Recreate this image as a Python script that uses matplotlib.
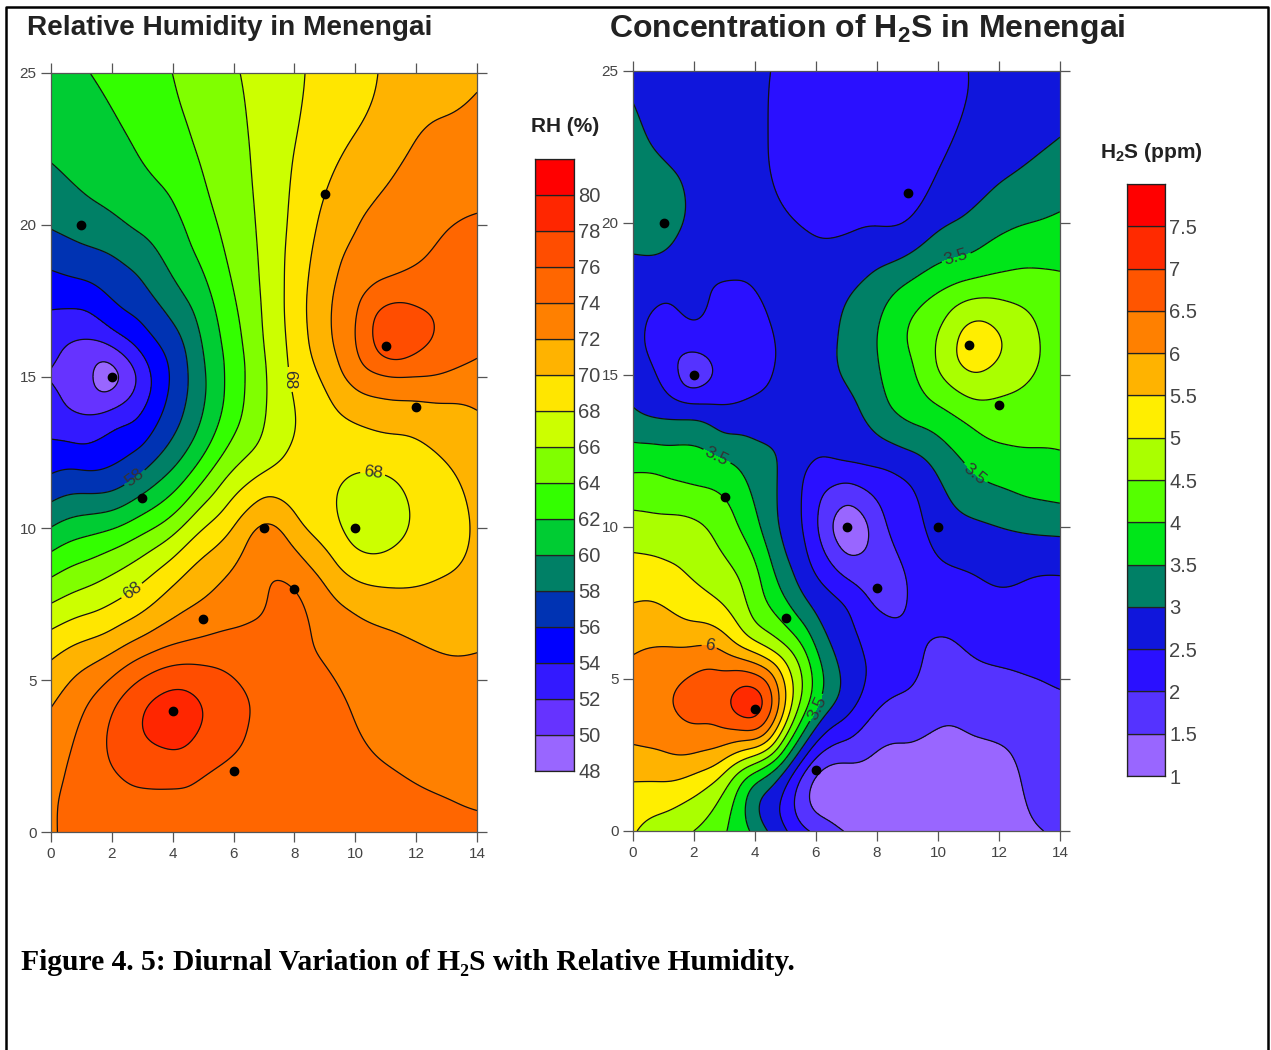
import numpy as np
import matplotlib
matplotlib.use('Agg')
import matplotlib.pyplot as plt
from matplotlib.lines import Line2D
from matplotlib.tri import Triangulation, CubicTriInterpolator

plt.rcParams['font.family'] = ['Liberation Sans', 'DejaVu Sans']
plt.rcParams['mathtext.fontset'] = 'custom'
plt.rcParams['mathtext.bf'] = 'Liberation Sans:bold'
plt.rcParams['mathtext.default'] = 'bf'

W, H = 1271, 1050

x_grid = list(range(15))
y_grid = [25, 22.5, 20, 18, 16, 15, 14, 12, 10, 8, 6, 4, 2, 0]

rh_rows = [
    [60.9, 61.8, 62.5, 63.3, 64.0, 65.0, 65.8, 66.8, 67.7, 68.6, 69.4, 70.2, 70.8, 71.3, 71.7],
    [60.2, 60.7, 61.4, 62.2, 63.1, 64.3, 65.3, 66.7, 68.0, 69.2, 70.3, 71.1, 72.2, 72.6, 72.9],
    [58.2, 58.9, 59.5, 60.4, 61.4, 63.2, 64.8, 66.5, 68.5, 70.5, 71.9, 72.6, 73.2, 73.9, 74.2],
    [55.2, 55.6, 56.6, 57.8, 59.7, 61.6, 64.1, 66.3, 68.9, 71.3, 73.2, 74.5, 74.9, 75.2, 75.1],
    [52.6, 51.6, 52.0, 54.6, 56.9, 60.1, 63.1, 66.0, 68.7, 71.3, 73.9, 77.0, 76.4, 75.3, 74.4],
    [51.9, 50.9, 49.2, 52.8, 56.3, 59.7, 62.9, 65.75, 68.4, 70.4, 72.8, 73.95, 74.0, 73.7, 73.3],
    [52.7, 51.6, 51.7, 53.7, 56.8, 59.9, 63.1, 65.8, 68.0, 69.5, 70.9, 71.5, 71.6, 71.8, 72.1],
    [55.6, 55.8, 56.1, 57.6, 59.9, 62.9, 65.9, 67.7, 68.6, 68.6, 68.2, 68.3, 69.0, 69.9, 70.8],
    [60.1, 61.2, 61.9, 63.4, 65.3, 68.0, 70.1, 72.4, 70.8, 69.1, 67.2, 67.2, 68.3, 69.2, 70.3],
    [64.9, 66.0, 67.0, 68.4, 70.2, 71.6, 72.7, 73.85, 74.05, 72.2, 70.6, 70.1, 70.1, 70.4, 70.8],
    [69.4, 70.6, 71.7, 73.3, 74.5, 74.9, 74.9, 74.8, 74.4, 73.8, 73.1, 72.6, 72.2, 71.9, 71.95],
    [72.1, 73.8, 75.9, 77.9, 79.0, 78.0, 76.6, 75.7, 75.0, 74.5, 73.9, 73.4, 73.1, 72.9, 72.8],
    [73.6, 74.6, 75.9, 76.6, 76.8, 76.2, 75.6, 75.3, 75.1, 74.8, 74.4, 74.1, 73.8, 73.6, 73.4],
    [73.8, 74.7, 75.2, 75.5, 75.5, 75.5, 75.4, 75.4, 75.3, 75.2, 75.1, 75.0, 74.9, 74.6, 74.4],
]

h2s_rows = [
    [2.85, 2.75, 2.7, 2.65, 2.55, 2.45, 2.35, 2.3, 2.3, 2.35, 2.42, 2.5, 2.6, 2.68, 2.75],
    [3.25, 2.9, 2.75, 2.65, 2.55, 2.42, 2.3, 2.25, 2.2, 2.25, 2.43, 2.6, 2.75, 2.92, 3.05],
    [3.3, 3.25, 2.85, 2.7, 2.6, 2.55, 2.42, 2.42, 2.47, 2.52, 2.9, 3.1, 3.37, 3.5, 3.6],
    [2.75, 2.65, 2.58, 2.48, 2.52, 2.7, 2.75, 2.9, 3.17, 3.52, 3.85, 4.1, 4.2, 4.2, 4.08],
    [2.7, 2.3, 2.15, 2.15, 2.3, 2.6, 2.8, 3.1, 3.5, 4.0, 4.55, 5.25, 5.05, 4.66, 4.2],
    [2.75, 2.4, 1.7, 2.2, 2.35, 2.65, 2.85, 3.05, 3.45, 3.85, 4.45, 4.95, 4.8, 4.55, 4.2],
    [2.98, 2.75, 2.55, 2.5, 2.6, 2.75, 2.85, 2.9, 3.3, 3.7, 4.0, 4.35, 4.4, 4.3, 4.15],
    [3.9, 3.85, 3.75, 3.6, 3.25, 2.9, 2.4, 2.4, 2.52, 2.7, 3.1, 3.52, 3.75, 3.85, 3.9],
    [4.7, 4.65, 4.6, 4.25, 3.65, 2.85, 2.07, 1.2, 1.75, 2.25, 2.7, 2.9, 3.0, 3.1, 3.15],
    [5.37, 5.3, 5.05, 4.8, 4.2, 3.35, 2.65, 2.2, 1.8, 2.0, 2.28, 2.38, 2.5, 2.43, 2.4],
    [5.93, 6.03, 6.05, 5.9, 5.3, 4.6, 3.5, 2.75, 2.3, 2.1, 1.95, 2.02, 2.1, 2.15, 2.2],
    [6.3, 6.4, 6.65, 6.85, 7.25, 5.4, 3.5, 2.65, 2.0, 1.85, 1.65, 1.7, 1.75, 1.8, 1.9],
    [5.65, 5.7, 5.6, 5.1, 4.1, 3.0, 1.6, 1.35, 1.3, 1.25, 1.2, 1.25, 1.35, 1.6, 1.8],
    [5.05, 4.75, 4.5, 4.05, 3.35, 2.55, 1.9, 1.45, 1.35, 1.3, 1.3, 1.3, 1.35, 1.45, 1.55],
]

# sampling stations
station_x = [1, 2, 3, 4, 5, 6, 7, 8, 9, 10, 11, 12]
station_y = [20, 15, 11, 4, 7, 2, 10, 8, 21, 10, 16, 14]

rh_levels = list(range(48, 84, 2))
rh_colors = ['#9966ff', '#6633ff', '#3319ff', '#0000ff', '#0033b3', '#008066', '#00cc33', '#33ff00', '#80ff00',
             '#ccff00', '#ffe600', '#ffb300', '#ff8000', '#ff6600', '#ff4d00', '#ff2600', '#ff0000']
rh_ticks = list(range(48, 82, 2))

h2s_levels = [1, 1.5, 2, 2.5, 3, 3.5, 4, 4.5, 5, 5.5, 6, 6.5, 7, 7.5, 8]
h2s_colors = ['#9966ff', '#5533ff', '#2a10ff', '#1016dc', '#008066', '#00e619', '#55ff00', '#aaff00',
              '#ffee00', '#ffb300', '#ff8000', '#ff5500', '#ff2a00', '#ff0000']
h2s_ticks = [1, 1.5, 2, 2.5, 3, 3.5, 4, 4.5, 5, 5.5, 6, 6.5, 7, 7.5]

# (level, x, y, rotation or None) of the inline labels
rh_labels = [(68, 7.82, 14.9, 270), (58, 2.83, 11.56, None), (68, 10.55, 11.63, None), (68, 2.66, 7.94, None)]
h2s_labels = [(3.5, 10.56, 19.0, None), (3.5, 2.72, 12.27, None), (3.5, 11.25, 11.8, None),
              (3.5, 6.03, 4.05, None), (6, 2.49, 6.02, None)]


def px_axes(left, top, right, bottom):
    return fig.add_axes([left / W, 1 - bottom / H, (right - left) / W, (bottom - top) / H])


def soften(z, step, sigma):
    # the hand read grid is a bit noisy, take the wobble out of the contours
    n = int(3 * sigma / step)
    k = np.exp(-0.5 * (np.arange(-n, n + 1) * step / sigma) ** 2)
    k = k / k.sum()
    p = np.pad(z, n, mode='reflect', reflect_type='odd')
    p = np.apply_along_axis(lambda a: np.convolve(a, k, mode='same'), 0, p)
    p = np.apply_along_axis(lambda a: np.convolve(a, k, mode='same'), 1, p)
    return p[n:-n, n:-n]


def contour_panel(ax, rows, levels, colors, labels):
    xx, yy = np.meshgrid(x_grid, y_grid)
    tri = Triangulation(xx.ravel(), yy.ravel())
    interp = CubicTriInterpolator(tri, np.array(rows, dtype=float).ravel(), kind='min_E')
    xf = np.clip(np.linspace(0, 14, 281), 1e-6, 14 - 1e-6)
    yf = np.clip(np.linspace(0, 25, 501), 1e-6, 25 - 1e-6)
    gx, gy = np.meshgrid(xf, yf)
    zf = soften(np.ma.filled(interp(gx, gy), np.nan), 0.05, 0.22)
    ax.contourf(gx, gy, zf, levels=levels, colors=colors)
    labelled = sorted(set(l[0] for l in labels))
    plain = [l for l in levels if l not in labelled]
    ax.contour(gx, gy, zf, levels=plain, colors='#111111', linewidths=0.9)
    for lev in labelled:
        cs = ax.contour(gx, gy, zf, levels=[lev], colors='#111111', linewidths=0.9)
        pos = [(l[1], l[2]) for l in labels if l[0] == lev]
        texts = ax.clabel(cs, fmt='%g', fontsize=12.5, colors='#333333', manual=pos, inline=True, inline_spacing=3)
        for t, l in zip(texts, [l for l in labels if l[0] == lev]):
            if l[3] is not None:
                t.set_rotation(l[3])
    ax.scatter(station_x, station_y, s=36, color='black', zorder=5, clip_on=False)
    ax.set_xlim(0, 14)
    ax.set_ylim(0, 25)
    ax.set_xticks(range(0, 15, 2))
    ax.set_yticks(range(0, 26, 5))
    ax.tick_params(axis='both', direction='out', length=7, width=0.9, color='#555555', labelcolor='#444444',
                   labelsize=11, top=True, right=True, pad=3.5)
    for s in ax.spines.values():
        s.set_color('#555555')
        s.set_linewidth(0.9)


def color_bar(ax, levels, colors, ticks):
    for i in range(len(colors)):
        ax.bar(0, levels[i + 1] - levels[i], bottom=levels[i], width=1, color=colors[i],
               edgecolor='#222222', linewidth=0.9)
    ax.set_xlim(-0.5, 0.5)
    ax.set_ylim(levels[0], levels[-1])
    ax.set_xticks([])
    ax.yaxis.tick_right()
    ax.set_yticks(ticks)
    ax.set_yticklabels(['%g' % t for t in ticks])
    ax.tick_params(axis='y', length=0, labelsize=14.5, labelcolor='#444444', pad=3)
    for s in ax.spines.values():
        s.set_color('#222222')
        s.set_linewidth(0.9)


fig = plt.figure(figsize=(W / 100, H / 100), dpi=100)

ax_rh = px_axes(51, 73, 477, 832)
contour_panel(ax_rh, rh_rows, rh_levels, rh_colors, rh_labels)
ax_h2s = px_axes(633, 71, 1060, 831)
contour_panel(ax_h2s, h2s_rows, h2s_levels, h2s_colors, h2s_labels)

cb_rh = px_axes(535, 159, 574, 771)
color_bar(cb_rh, rh_levels, rh_colors, rh_ticks)
cb_h2s = px_axes(1127, 184, 1165, 776)
color_bar(cb_h2s, h2s_levels, h2s_colors, h2s_ticks)

fig.text(27 / W, 1 - 28 / H, 'Relative Humidity in Menengai', fontsize=20.2, fontweight='bold', color='#222222',
         va='center')
fig.text(609 / W, 1 - 29 / H, r'Concentration of H$_2$S in Menengai', fontsize=23, fontweight='bold',
         color='#222222', va='center')
fig.text(531 / W, 1 - 127 / H, 'RH (%)', fontsize=15, fontweight='bold', color='#222222', va='center')
fig.text(1100 / W, 1 - 152 / H, r'H$_2$S (ppm)', fontsize=15, fontweight='bold', color='#222222', va='center')
fig.text(21 / W, 1 - 963 / H, 'Figure 4. 5: Diurnal Variation of H\u2082S with Relative Humidity.',
         fontsize=21.3, fontweight='bold', family=['Liberation Serif', 'DejaVu Serif'], color='black', va='center')

# page frame, open at the bottom
fig.add_artist(Line2D([6 / W, 6 / W, 1268 / W, 1268 / W], [0, 1 - 7 / H, 1 - 7 / H, 0],
                      color='black', linewidth=1.8))

fig.savefig('out.png', dpi=100)
